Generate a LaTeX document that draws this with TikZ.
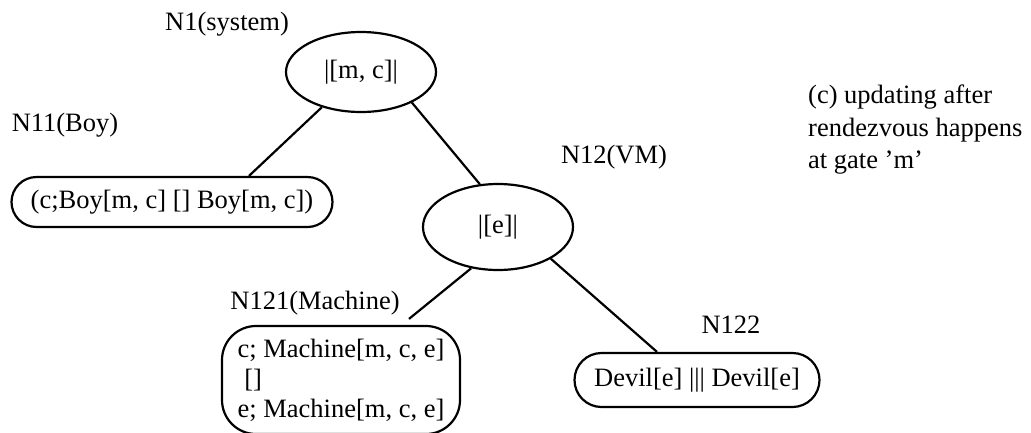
\documentclass[tikz,border=0pt]{standalone}
\usepackage{fontspec}
\setmainfont{Liberation Serif}
\usetikzlibrary{shapes.geometric,shapes.misc}
\begin{document}
\begin{tikzpicture}[x=1pt,y=-1pt,
  every node/.style={font=\fontsize{26.5}{30}\selectfont},
  ell/.style={draw,ellipse,line width=2.2pt,inner sep=0pt,minimum width=150pt},
  pill/.style={draw,rounded rectangle,line width=2.2pt,inner sep=0pt,minimum height=50pt},
  mbox/.style={draw,rectangle,rounded corners=34pt,line width=2.2pt,inner sep=0pt,align=left,minimum width=238pt,minimum height=108pt},
  lbl/.style={anchor=base,inner sep=0pt},
  edge/.style={line width=2.2pt}]
\useasboundingbox (0,0) rectangle (1031,432);
% nodes
\node[ell,minimum height=80pt] (n1) at (361,72) {|[m, c]|};
\node[ell,minimum height=86pt] (vm) at (498,227) {|[e]|};
\node[pill,minimum width=321pt] (boy) at (172,202) {(c;Boy[m, c] [] Boy[m, c])};
\node[pill,minimum width=245pt,minimum height=54pt] (devil) at (697,380) {Devil[e] ||| Devil[e]};
\node[mbox] (mach) at (341,380) {c; Machine[m, c, e]\\\ []\\e; Machine[m, c, e]};
% labels
\node[lbl] (l1) at (227,30) {N1(system)};
\node[lbl] (l11) at (65,131) {N11(Boy)};
\node[lbl] (l12) at (614,163) {N12(VM)};
\node[lbl] (l121) at (315,309) {N121(Machine)};
\node[lbl] (l122) at (731,333) {N122};
\node[anchor=north west,inner sep=0pt,align=left,font=\fontsize{26.5}{32.5}\selectfont] (cap) at (808,85) {(c) updating after\\rendezvous happens\\at gate 'm'};
% edges
\draw[edge] (n1.-138) -- ([xshift=77pt]boy.north);
\draw[edge] (n1.-31) -- (vm.113);
\draw[edge] (vm.-123) -- ([xshift=68pt,yshift=6pt]mach.north);
\draw[edge] (vm.-31) -- ([xshift=-40pt]devil.north);
\end{tikzpicture}
\end{document}
